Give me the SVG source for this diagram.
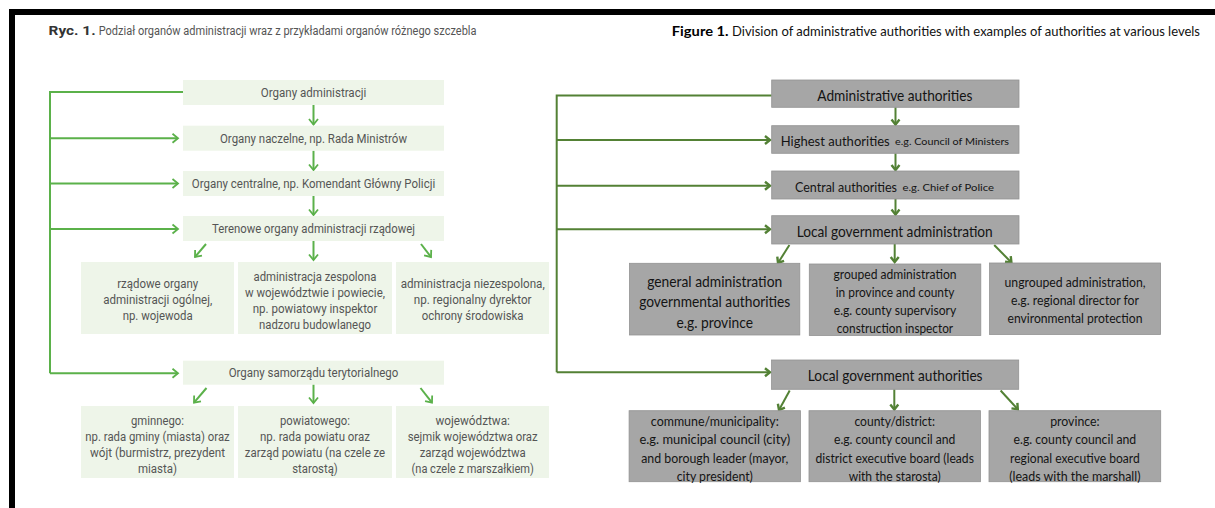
<svg xmlns="http://www.w3.org/2000/svg" width="1215" height="508" viewBox="0 0 1215 508">
  <style>
    .pl { font-family: Roboto, "Liberation Sans", sans-serif; font-size: 12.5px; fill: #555555; text-anchor: middle; dominant-baseline: central; }
    .en { font-family: Lato, "Liberation Sans", sans-serif; fill: #141414; text-anchor: middle; dominant-baseline: central; }
    .en15 { font-size: 15px; }
    .en14 { font-size: 14px; }
    .en16 { font-size: 16px; }
    .en13 { font-size: 13.5px; }
    .en10 { font-size: 10px; }
    .st { text-anchor: start; }
    .boxL { fill: #eef5e9; }
    .boxR { fill: #a6a6a6; stroke: #939393; stroke-width: 0.8; }
    .lnL { fill: none; stroke: #5bb14a; stroke-width: 2; }
    .lnR { fill: none; stroke: #538135; stroke-width: 2; }
    .arL { marker-end: url(#ahL); }
    .arR { marker-end: url(#ahR); }
  </style>
  <defs>
    <marker id="ahL" markerUnits="userSpaceOnUse" markerWidth="14" markerHeight="14" viewBox="-7 -7 14 14" refX="0" refY="0" orient="auto">
      <path d="M-5.5,-4.5 L0,0 L-5.5,4.5" fill="none" stroke="#5bb14a" stroke-width="1.8"/>
    </marker>
    <marker id="ahR" markerUnits="userSpaceOnUse" markerWidth="14" markerHeight="14" viewBox="-7 -7 14 14" refX="0" refY="0" orient="auto">
      <path d="M-5,-4 L0,0 L-5,4" fill="none" stroke="#538135" stroke-width="2.4"/>
    </marker>
  </defs>

  <rect width="1215" height="508" fill="#ffffff"/>
  <!-- frame -->
  <rect x="9" y="9" width="1206" height="6" fill="#000000"/>
  <rect x="9" y="9" width="6" height="499" fill="#000000"/>

  <!-- titles -->
  <g id="title-pl" font-family="Roboto, 'Liberation Sans', sans-serif" font-size="12">
    <text x="48.6" y="31" dominant-baseline="central" font-weight="bold" fill="#333333" textLength="47" lengthAdjust="spacingAndGlyphs">Ryc. 1.</text>
    <text x="98.7" y="31" dominant-baseline="central" fill="#555555" textLength="377.8" lengthAdjust="spacingAndGlyphs">Podział organów administracji wraz z przykładami organów różnego szczebla</text>
  </g>
  <g id="title-en" font-family="Lato, 'Liberation Sans', sans-serif" font-size="12.5">
    <text x="671.8" y="31" dominant-baseline="central" font-weight="bold" font-size="13.5" fill="#000000" textLength="56.8" lengthAdjust="spacingAndGlyphs">Figure 1.</text>
    <text x="732" y="31" dominant-baseline="central" fill="#111111" textLength="468" lengthAdjust="spacingAndGlyphs">Division of administrative authorities with examples of authorities at various levels</text>
  </g>

  <!-- connectors -->
  <g id="connectors">
    <!-- Polish chart -->
    <path class="lnL" d="M183,92 H50 V373.3"/>
    <path class="lnL arL" d="M50,138.3 H178"/>
    <path class="lnL arL" d="M50,183.5 H178"/>
    <path class="lnL arL" d="M50,229 H178"/>
    <path class="lnL arL" d="M50,373.3 H178"/>
    <path class="lnL arL" d="M313.5,105 V124.5"/>
    <path class="lnL arL" d="M313.5,150.7 V170"/>
    <path class="lnL arL" d="M313.5,196 V215"/>
    <path class="lnL arL" d="M206,244 L195,257"/>
    <path class="lnL arL" d="M313.5,241 V260"/>
    <path class="lnL arL" d="M421,244 L431,257"/>
    <path class="lnL arL" d="M206.5,388 L194,402.7"/>
    <path class="lnL arL" d="M313.5,384.3 V403"/>
    <path class="lnL arL" d="M420.5,388 L432,402.7"/>
    <!-- English chart -->
    <path class="lnR" d="M771.7,95.5 H556.7 V372.3"/>
    <path class="lnR arR" d="M556.7,140 H770"/>
    <path class="lnR arR" d="M556.7,185.7 H770"/>
    <path class="lnR arR" d="M556.7,229.3 H770"/>
    <path class="lnR arR" d="M556.7,372.3 H770"/>
    <path class="lnR arR" d="M895.5,107.3 V124.5"/>
    <path class="lnR arR" d="M895.5,153.3 V170"/>
    <path class="lnR arR" d="M895.5,199 V214.5"/>
    <path class="lnR arR" d="M789.4,245 L778,263"/>
    <path class="lnR arR" d="M894.7,244 V262"/>
    <path class="lnR arR" d="M994.2,245 L1011.4,262.5"/>
    <path class="lnR arR" d="M789.7,390.5 L779,410"/>
    <path class="lnR arR" d="M894.3,389.3 V409.5"/>
    <path class="lnR arR" d="M1000.6,390.5 L1017.8,409.3"/>
  </g>

  <!-- Polish chart nodes -->
  <g id="pl-organy-administracji">
    <rect class="boxL" x="183" y="80" width="261" height="25"/>
    <text class="pl" x="313.5" y="92.5" textLength="105.5" lengthAdjust="spacingAndGlyphs">Organy administracji</text>
  </g>
  <g id="pl-organy-naczelne">
    <rect class="boxL" x="183" y="125.7" width="261" height="25"/>
    <text class="pl" x="313.5" y="138.3" textLength="187" lengthAdjust="spacingAndGlyphs">Organy naczelne, np. Rada Ministrów</text>
  </g>
  <g id="pl-organy-centralne">
    <rect class="boxL" x="183" y="171" width="261" height="25"/>
    <text class="pl" x="313.5" y="183.5" textLength="243.4" lengthAdjust="spacingAndGlyphs">Organy centralne, np. Komendant Główny Policji</text>
  </g>
  <g id="pl-terenowe">
    <rect class="boxL" x="183" y="216" width="261" height="25"/>
    <text class="pl" x="313.5" y="228.7" textLength="203" lengthAdjust="spacingAndGlyphs">Terenowe organy administracji rządowej</text>
  </g>
  <g id="pl-rzadowe-ogolne">
    <rect class="boxL" x="81" y="262" width="153" height="72"/>
    <text class="pl" x="157.7" y="283.5" textLength="81" lengthAdjust="spacingAndGlyphs">rządowe organy</text>
    <text class="pl" x="157.7" y="299.5" textLength="109" lengthAdjust="spacingAndGlyphs">administracji ogólnej,</text>
    <text class="pl" x="157.7" y="315.5" textLength="70" lengthAdjust="spacingAndGlyphs">np. wojewoda</text>
  </g>
  <g id="pl-zespolona">
    <rect class="boxL" x="238" y="262" width="154" height="72"/>
    <text class="pl" x="315" y="276" textLength="123" lengthAdjust="spacingAndGlyphs">administracja zespolona</text>
    <text class="pl" x="315" y="292" textLength="140" lengthAdjust="spacingAndGlyphs">w województwie i powiecie,</text>
    <text class="pl" x="315" y="308" textLength="124.7" lengthAdjust="spacingAndGlyphs">np. powiatowy inspektor</text>
    <text class="pl" x="315" y="324" textLength="112" lengthAdjust="spacingAndGlyphs">nadzoru budowlanego</text>
  </g>
  <g id="pl-niezespolona">
    <rect class="boxL" x="396" y="262" width="153" height="72"/>
    <text class="pl" x="472.7" y="283" textLength="144" lengthAdjust="spacingAndGlyphs">administracja niezespolona,</text>
    <text class="pl" x="472.7" y="299.5" textLength="117.7" lengthAdjust="spacingAndGlyphs">np. regionalny dyrektor</text>
    <text class="pl" x="472.7" y="315.5" textLength="101.7" lengthAdjust="spacingAndGlyphs">ochrony środowiska</text>
  </g>
  <g id="pl-samorzad">
    <rect class="boxL" x="183" y="360.7" width="261" height="24"/>
    <text class="pl" x="313.5" y="372.5" textLength="169.7" lengthAdjust="spacingAndGlyphs">Organy samorządu terytorialnego</text>
  </g>
  <g id="pl-gminnego">
    <rect class="boxL" x="81" y="406" width="153" height="72"/>
    <text class="pl" x="157.5" y="420" textLength="53" lengthAdjust="spacingAndGlyphs">gminnego:</text>
    <text class="pl" x="157.5" y="436" textLength="144.4" lengthAdjust="spacingAndGlyphs">np. rada gminy (miasta) oraz</text>
    <text class="pl" x="157.5" y="452" textLength="135" lengthAdjust="spacingAndGlyphs">wójt (burmistrz, prezydent</text>
    <text class="pl" x="157.5" y="468" textLength="39" lengthAdjust="spacingAndGlyphs">miasta)</text>
  </g>
  <g id="pl-powiatowego">
    <rect class="boxL" x="238" y="406" width="154" height="72"/>
    <text class="pl" x="315" y="420" textLength="70" lengthAdjust="spacingAndGlyphs">powiatowego:</text>
    <text class="pl" x="315" y="436" textLength="110" lengthAdjust="spacingAndGlyphs">np. rada powiatu oraz</text>
    <text class="pl" x="315" y="452" textLength="140.3" lengthAdjust="spacingAndGlyphs">zarząd powiatu (na czele ze</text>
    <text class="pl" x="315" y="468" textLength="45.6" lengthAdjust="spacingAndGlyphs">starostą)</text>
  </g>
  <g id="pl-wojewodztwa">
    <rect class="boxL" x="396" y="406" width="153" height="72"/>
    <text class="pl" x="472.7" y="420" textLength="74.4" lengthAdjust="spacingAndGlyphs">województwa:</text>
    <text class="pl" x="472.7" y="436" textLength="130" lengthAdjust="spacingAndGlyphs">sejmik województwa oraz</text>
    <text class="pl" x="472.7" y="452" textLength="106" lengthAdjust="spacingAndGlyphs">zarząd województwa</text>
    <text class="pl" x="472.7" y="468" textLength="122.4" lengthAdjust="spacingAndGlyphs">(na czele z marszałkiem)</text>
  </g>

  <!-- English chart nodes -->
  <g id="en-administrative">
    <rect class="boxR" x="771.7" y="80" width="247.3" height="27.3"/>
    <text class="en en15" x="894.8" y="94.5" textLength="155" lengthAdjust="spacingAndGlyphs">Administrative authorities</text>
  </g>
  <g id="en-highest">
    <rect class="boxR" x="771.7" y="125.7" width="247.3" height="27.6"/>
    <text class="en st" y="140"><tspan class="en14" x="780.7" textLength="109" lengthAdjust="spacingAndGlyphs">Highest authorities</tspan><tspan class="en10" x="895" dy="1" textLength="114" lengthAdjust="spacingAndGlyphs">e.g. Council of Ministers</tspan></text>
  </g>
  <g id="en-central">
    <rect class="boxR" x="771.7" y="171" width="247.3" height="28"/>
    <text class="en st" y="185.5"><tspan class="en14" x="795" textLength="102" lengthAdjust="spacingAndGlyphs">Central authorities</tspan><tspan class="en10" x="902.5" dy="1" textLength="91.5" lengthAdjust="spacingAndGlyphs">e.g. Chief of Police</tspan></text>
  </g>
  <g id="en-local-admin">
    <rect class="boxR" x="771.7" y="215.7" width="247.3" height="28.3"/>
    <text class="en en15" x="894.7" y="230.5" textLength="196" lengthAdjust="spacingAndGlyphs">Local government administration</text>
  </g>
  <g id="en-general">
    <rect class="boxR" x="629.5" y="263.3" width="170.3" height="71.7"/>
    <text class="en en16" x="714.7" y="280" textLength="135" lengthAdjust="spacingAndGlyphs">general administration</text>
    <text class="en en16" x="714.7" y="300.5" textLength="151" lengthAdjust="spacingAndGlyphs">governmental authorities</text>
    <text class="en en16" x="714.7" y="321" textLength="76.5" lengthAdjust="spacingAndGlyphs">e.g. province</text>
  </g>
  <g id="en-grouped">
    <rect class="boxR" x="809.3" y="264" width="171.5" height="71.5"/>
    <text class="en en13" x="895" y="273.5" textLength="123" lengthAdjust="spacingAndGlyphs">grouped administration</text>
    <text class="en en13" x="895" y="291.5" textLength="118.6" lengthAdjust="spacingAndGlyphs">in province and county</text>
    <text class="en en13" x="895" y="309.5" textLength="122.5" lengthAdjust="spacingAndGlyphs">e.g. county supervisory</text>
    <text class="en en13" x="895" y="327.5" textLength="116.3" lengthAdjust="spacingAndGlyphs">construction inspector</text>
  </g>
  <g id="en-ungrouped">
    <rect class="boxR" x="989.6" y="263" width="171" height="71.5"/>
    <text class="en en13" x="1075" y="282" textLength="141" lengthAdjust="spacingAndGlyphs">ungrouped administration,</text>
    <text class="en en13" x="1075" y="300" textLength="128" lengthAdjust="spacingAndGlyphs">e.g. regional director for</text>
    <text class="en en13" x="1075" y="318.3" textLength="135" lengthAdjust="spacingAndGlyphs">environmental protection</text>
  </g>
  <g id="en-local-authorities">
    <rect class="boxR" x="771.6" y="360" width="247.1" height="29.3"/>
    <text class="en en15" x="895.2" y="375" textLength="174.7" lengthAdjust="spacingAndGlyphs">Local government authorities</text>
  </g>
  <g id="en-commune">
    <rect class="boxR" x="629.1" y="410.7" width="171.3" height="71"/>
    <text class="en en13" x="714.8" y="420.5" textLength="127.9" lengthAdjust="spacingAndGlyphs">commune/municipality:</text>
    <text class="en en13" x="714.8" y="439" textLength="150.6" lengthAdjust="spacingAndGlyphs">e.g. municipal council (city)</text>
    <text class="en en13" x="714.8" y="457.5" textLength="147.2" lengthAdjust="spacingAndGlyphs">and borough leader (mayor,</text>
    <text class="en en13" x="714.8" y="476" textLength="76.2" lengthAdjust="spacingAndGlyphs">city president)</text>
  </g>
  <g id="en-county">
    <rect class="boxR" x="809" y="410.7" width="171.4" height="71"/>
    <text class="en en13" x="894.7" y="420.5" textLength="80.5" lengthAdjust="spacingAndGlyphs">county/district:</text>
    <text class="en en13" x="894.7" y="439" textLength="121.4" lengthAdjust="spacingAndGlyphs">e.g. county council and</text>
    <text class="en en13" x="894.7" y="457.5" textLength="158.4" lengthAdjust="spacingAndGlyphs">district executive board (leads</text>
    <text class="en en13" x="894.7" y="476" textLength="92" lengthAdjust="spacingAndGlyphs">with the starosta)</text>
  </g>
  <g id="en-province">
    <rect class="boxR" x="989" y="410.7" width="171.7" height="71"/>
    <text class="en en13" x="1074.9" y="420.5" textLength="49.5" lengthAdjust="spacingAndGlyphs">province:</text>
    <text class="en en13" x="1074.9" y="439" textLength="122.7" lengthAdjust="spacingAndGlyphs">e.g. county council and</text>
    <text class="en en13" x="1074.9" y="457.5" textLength="129.6" lengthAdjust="spacingAndGlyphs">regional executive board</text>
    <text class="en en13" x="1074.9" y="476" textLength="131.3" lengthAdjust="spacingAndGlyphs">(leads with the marshall)</text>
  </g>
</svg>
